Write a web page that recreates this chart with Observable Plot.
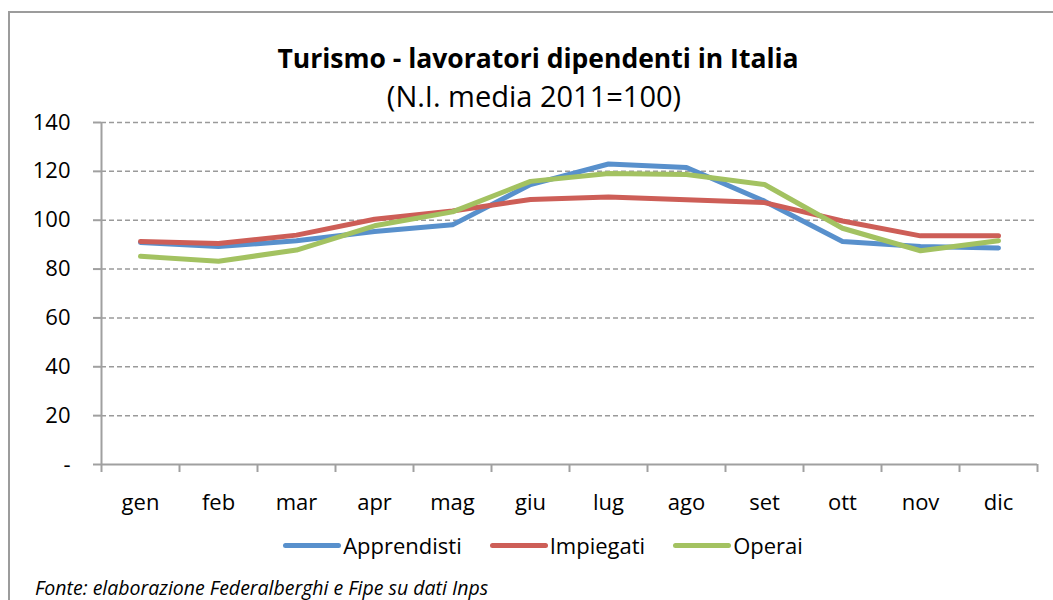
<!DOCTYPE html>
<html>
<head>
<meta charset="utf-8">
<script src="https://cdn.jsdelivr.net/npm/d3@7"></script>
<script src="https://cdn.jsdelivr.net/npm/@observablehq/plot@0.6"></script>
<style>
  html, body { margin: 0; padding: 0; background: #fff; }
  #wrap { position: relative; width: 1053px; height: 600px; overflow: hidden; background: #fff; font-family: "Open Sans", sans-serif; color: #000; }
  #frame { position: absolute; left: 8px; top: 11px; width: 1100px; height: 700px; border: 2px solid #9c9c9c; box-sizing: border-box; }
  #title { position: absolute; left: 0; width: 1076px; top: 41px; text-align: center; font-weight: bold; font-size: 26.5px; line-height: 34px; }
  #subtitle { position: absolute; left: 0; width: 1068px; top: 78px; text-align: center; font-size: 29px; line-height: 36px; }
  #chart { position: absolute; left: 0; top: 100px; }
  #legend { position: absolute; left: 0; width: 1086px; top: 530px; display: flex; justify-content: center; align-items: center; gap: 28px; font-size: 22px; line-height: 30px; }
  .item { display: flex; align-items: center; gap: 2px; }
  .sw { width: 58px; height: 5px; border-radius: 3px; }
  #caption { position: absolute; left: 35px; top: 575px; font-style: italic; font-size: 19.5px; line-height: 26px; }
</style>
</head>
<body>
<div id="wrap">
  <div id="frame"></div>
  <div id="title"></div>
  <div id="subtitle"></div>
  <div id="chart"></div>
  <div id="legend"></div>
  <div id="caption"></div>
</div>
<script>
const titleText = "Turismo - lavoratori dipendenti in Italia";
const subtitleText = "(N.I. media 2011=100)";
const captionText = "Fonte: elaborazione Federalberghi e Fipe su dati Inps";

const months = ["gen", "feb", "mar", "apr", "mag", "giu", "lug", "ago", "set", "ott", "nov", "dic"];
const seriesNames = ["Apprendisti", "Impiegati", "Operai"];
const seriesColors = ["#5890CC", "#CD5E57", "#A3C261"];
const apprendisti = [90.9, 89.2, 91.6, 95.4, 98.1, 114.6, 123.0, 121.6, 107.8, 91.3, 89.2, 88.6];
const impiegati   = [91.3, 90.5, 93.9, 100.4, 103.8, 108.5, 109.5, 108.4, 107.2, 99.7, 93.6, 93.6];
const operai      = [85.2, 83.2, 87.8, 97.7, 103.4, 115.9, 119.1, 118.7, 114.6, 96.7, 87.5, 91.6];
const yTicks = [0, 20, 40, 60, 80, 100, 120, 140];

document.getElementById("title").textContent = titleText;
document.getElementById("subtitle").textContent = subtitleText;
document.getElementById("caption").textContent = captionText;

const seriesValues = [apprendisti, impiegati, operai];
const rows = [];
seriesNames.forEach((s, k) => {
  months.forEach((m, i) => rows.push({series: s, i, month: m, value: seriesValues[k][i]}));
});

const axisGray = "#a0a0a0";

const chart = Plot.plot({
  width: 1053,
  height: 430,
  marginLeft: 101,
  marginRight: 16,
  marginTop: 22,
  marginBottom: 66,
  style: {fontFamily: "Open Sans, sans-serif", fontSize: "22px", color: "#000", background: "transparent"},
  x: {type: "linear", domain: [0, months.length], axis: null},
  y: {domain: [0, 140], axis: null},
  color: {domain: seriesNames, range: seriesColors},
  marks: [
    Plot.ruleY(yTicks.filter(d => d > 0), {stroke: "#9a9a9a", strokeWidth: 1.5, strokeDasharray: "5,3"}),
    Plot.ruleX([0], {stroke: axisGray, strokeWidth: 2}),
    Plot.ruleY([0], {stroke: axisGray, strokeWidth: 2}),
    Plot.axisY(yTicks, {
      tickSize: 8, tickPadding: 23, fontSize: 22, stroke: axisGray, strokeWidth: 2, fill: "#000",
      tickFormat: d => d === 0 ? "-" : String(d), label: null
    }),
    Plot.axisX(d3.range(months.length + 1), {
      tickSize: 8, stroke: axisGray, strokeWidth: 2, tickFormat: () => "", label: null
    }),
    Plot.axisX(months.map((m, i) => i + 0.5), {
      tickSize: 0, tickPadding: 30, fontSize: 22, fill: "#000",
      tickFormat: d => months[Math.floor(d)], label: null
    }),
    Plot.line(rows, {
      x: d => d.i + 0.5, y: "value", z: "series", stroke: "series",
      strokeWidth: 5, strokeLinejoin: "round", strokeLinecap: "round"
    })
  ]
});
document.getElementById("chart").appendChild(chart);

const legend = document.getElementById("legend");
seriesNames.forEach((s, k) => {
  const item = document.createElement("div");
  item.className = "item";
  const sw = document.createElement("span");
  sw.className = "sw";
  sw.style.background = seriesColors[k];
  const lab = document.createElement("span");
  lab.textContent = s;
  item.appendChild(sw);
  item.appendChild(lab);
  legend.appendChild(item);
});
</script>
</body>
</html>
